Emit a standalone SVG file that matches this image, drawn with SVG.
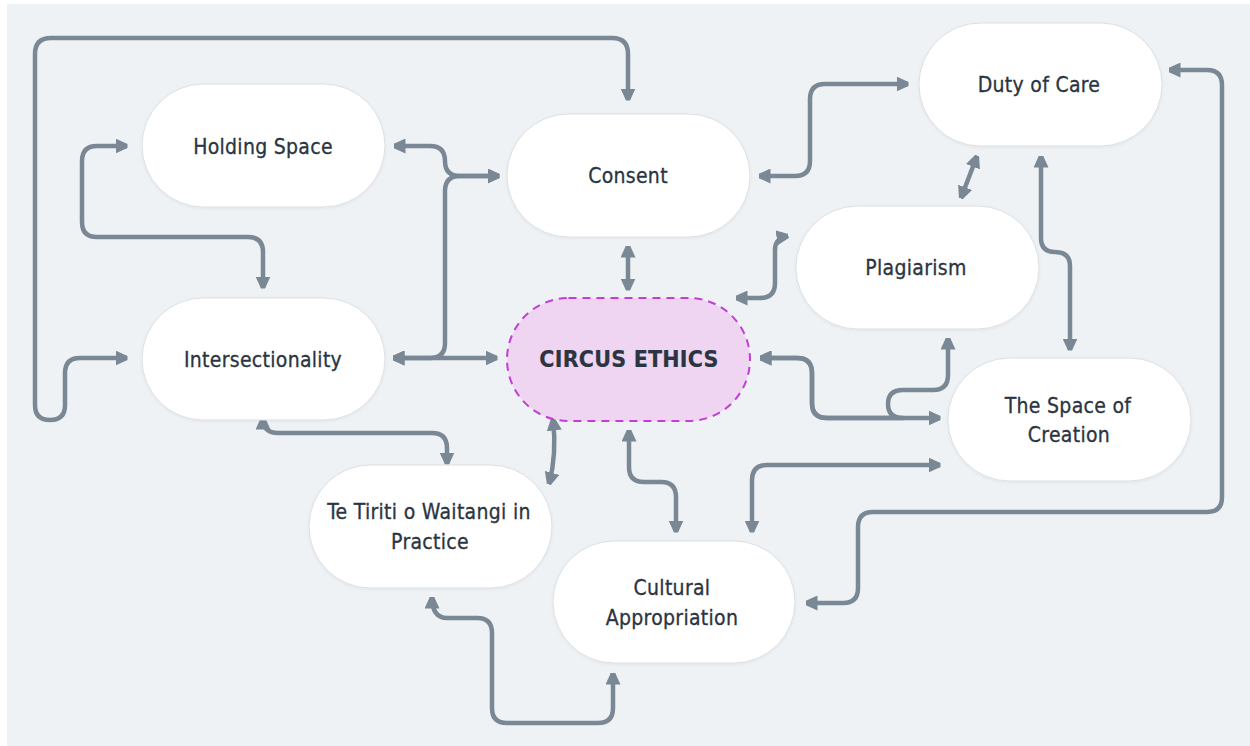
<svg xmlns="http://www.w3.org/2000/svg" width="1250" height="746" viewBox="0 0 1250 746">
  <style>
    .bg { fill: #eff2f5; }
    .node rect { fill: #ffffff; stroke: #dcdfe3; stroke-width: 1; filter: url(#soft); }
    .node text { font-family: "DejaVu Sans Condensed", "DejaVu Sans", sans-serif; font-size: 21px; letter-spacing: 0.3px; fill: #2b3541; stroke: #2b3541; stroke-width: 0.3; text-anchor: middle; }
    #n-core rect { fill: #f0d5f3; stroke: #c23fd5; stroke-width: 2; stroke-dasharray: 8 6; filter: none; }
    #n-core text { font-size: 23px; font-weight: bold; letter-spacing: 0.2px; stroke-width: 0.2; }
    .edge { fill: none; stroke: #798894; stroke-width: 4.5; stroke-linecap: butt; stroke-linejoin: round; marker-start: url(#head); marker-end: url(#head); }
  </style>
  <defs>
    <marker id="head" markerUnits="userSpaceOnUse" viewBox="0 0 12 15" markerWidth="12" markerHeight="15" refX="11.5" refY="7.5" orient="auto-start-reverse">
      <path d="M0,0 L12,5.5 L12,9.5 L0,15 Z" fill="#798894"/>
    </marker>
    <filter id="soft" x="-10%" y="-10%" width="120%" height="130%">
      <feDropShadow dx="0" dy="1" stdDeviation="1.5" flood-color="#000" flood-opacity="0.06"/>
    </filter>
  </defs>

  <rect class="bg" x="7" y="4" width="1243" height="742"/>

  <!-- connectors -->
  <g id="connectors">
    <path class="edge" d="M127 358 H80 Q65 358 65 373 V405 Q65 420 50 420 Q35 420 35 405 V54 Q35 38 51 38 H612 Q628 38 628 54 V100"/>
    <path class="edge" d="M127 146 H97 Q82 146 82 161 V222 Q82 237 97 237 H248 Q263 237 263 252 V288"/>
    <path class="edge" d="M394 146 H430 Q445 146 445 161 Q445 176 460 176 H499"/>
    <path class="edge" d="M393 358 H430 Q445 358 445 343 V191 Q445 176 460 176 H499"/>
    <path class="edge" d="M393 358 H497"/>
    <path class="edge" d="M628 246 V290"/>
    <path class="edge" d="M759 176 H795 Q810 176 810 161 V99 Q810 84 825 84 H908"/>
    <path class="edge" d="M977 156 L961 198"/>
    <path class="edge" d="M1041 156 V238 Q1041 252 1055 252 Q1070 252 1070 266 V350"/>
    <path class="edge" d="M1169 70 H1207 Q1222 70 1222 85 V497 Q1222 512 1207 512 H873 Q858 512 858 527 V588 Q858 603 843 603 H806"/>
    <path class="edge" d="M736 298 H760 Q775 298 775 283 V250 Q775 238 788 236"/>
    <path class="edge" d="M760 358 H797 Q812 358 812 373 V403 Q812 418 827 418 H940"/>
    <path class="edge" d="M760 358 H797 Q812 358 812 373 V403 Q812 418 827 418 H903 Q888 418 888 404 Q888 390 903 390 H933 Q948 390 948 375 V338"/>
    <path class="edge" d="M940 465 H767 Q752 465 752 480 V532"/>
    <path class="edge" d="M629 430 V467 Q629 482 644 482 H661 Q676 482 676 497 V532"/>
    <path class="edge" d="M553 419 Q557 455 549 484"/>
    <path class="edge" d="M263 418 Q263 433 278 433 H432 Q447 433 447 448 V464"/>
    <path class="edge" d="M432 597 Q432 618 447 618 H477 Q492 618 492 633 V708 Q492 723 507 723 H598 Q613 723 613 708 V673"/>
  </g>

  <!-- nodes -->
  <g id="n-holding" class="node">
    <rect x="142" y="84" width="243" height="123" rx="61.5"/>
    <text x="263" y="154">Holding Space</text>
  </g>
  <g id="n-consent" class="node">
    <rect x="507" y="114" width="243" height="123" rx="61.5"/>
    <text x="628" y="183">Consent</text>
  </g>
  <g id="n-duty" class="node">
    <rect x="919" y="23" width="243" height="123" rx="61.5"/>
    <text x="1039" y="92">Duty of Care</text>
  </g>
  <g id="n-intersect" class="node">
    <rect x="142" y="298" width="243" height="122" rx="61"/>
    <text x="263" y="367">Intersectionality</text>
  </g>
  <g id="n-core" class="node">
    <rect x="507" y="298" width="243" height="123" rx="61.5"/>
    <text x="629" y="367">CIRCUS ETHICS</text>
  </g>
  <g id="n-plagiarism" class="node">
    <rect x="796" y="206" width="243" height="123" rx="61.5"/>
    <text x="916" y="275">Plagiarism</text>
  </g>
  <g id="n-space" class="node">
    <rect x="948" y="358" width="243" height="123" rx="61.5"/>
    <text x="1068" y="413">The Space of</text>
    <text x="1069" y="442">Creation</text>
  </g>
  <g id="n-tiriti" class="node">
    <rect x="309" y="465" width="243" height="123" rx="61.5"/>
    <text x="429" y="519">Te Tiriti o Waitangi in</text>
    <text x="430" y="549">Practice</text>
  </g>
  <g id="n-cultural" class="node">
    <rect x="553" y="541" width="242" height="122" rx="61"/>
    <text x="672" y="595">Cultural</text>
    <text x="672" y="625">Appropriation</text>
  </g>
</svg>
